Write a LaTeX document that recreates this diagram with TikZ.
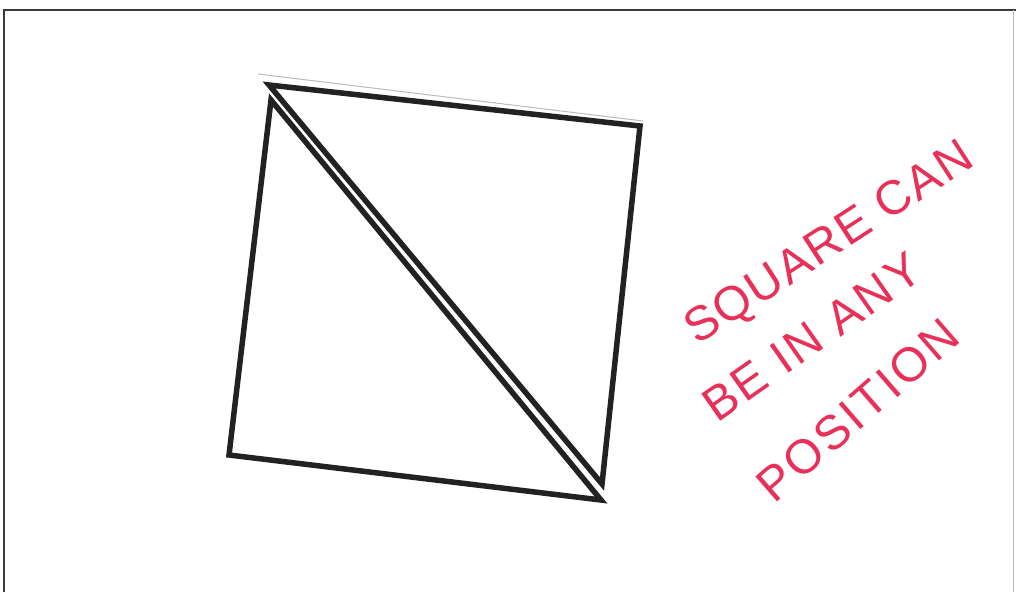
\documentclass[tikz,border=0pt]{standalone}
\usepackage{fontspec}
\setmainfont{Liberation Sans}
\definecolor{ink}{HTML}{222222}
\definecolor{frame}{HTML}{3A3A3A}
\definecolor{marker}{HTML}{E83058}
\definecolor{paper}{HTML}{BBBBBB}
\tikzset{
  tri/.style={draw=ink, line width=5.5pt, line join=miter},
  framestyle/.style={draw=frame, line width=2.5pt},
  note/.style={text=marker, font=\fontsize{48}{52}\selectfont, inner sep=0pt}
}
\begin{document}
\begin{tikzpicture}[x=1pt,y=-1pt]
\useasboundingbox (0,0) rectangle (1016,592);
\fill[white] (0,0) rectangle (1016,592);
% frame
\coordinate (f1) at (4,592);
\coordinate (f2) at (4,10);
\coordinate (f3) at (1016,10);
\draw[framestyle] (f1) -- (f2) -- (f3);
\draw[paper, line width=0.6pt] (1013,10) -- (1013,592);
% paper edge line above square
\coordinate (p1) at (258,74);
\coordinate (p2) at (643,121);
\draw[paper, line width=1pt] (p1) -- (p2);
% upper triangle
\coordinate (A) at (269,85);
\coordinate (B) at (640,126);
\coordinate (C) at (602,484);
\draw[tri] (A) -- (B) -- (C) -- cycle;
% lower triangle
\coordinate (D) at (271,100);
\coordinate (E) at (229,455);
\coordinate (F) at (601,500);
\draw[tri] (D) -- (E) -- (F) -- cycle;
% handwritten note
\node[note, rotate=33] (n1) at (830,245) {\addfontfeature{LetterSpace=4}SQUARE CAN};
\node[note, rotate=35] (n2) at (812,337) {\addfontfeature{LetterSpace=6}BE IN ANY};
\node[note, rotate=41] (n3) at (858,410) {\addfontfeature{LetterSpace=6}POSITION};
\end{tikzpicture}
\end{document}
